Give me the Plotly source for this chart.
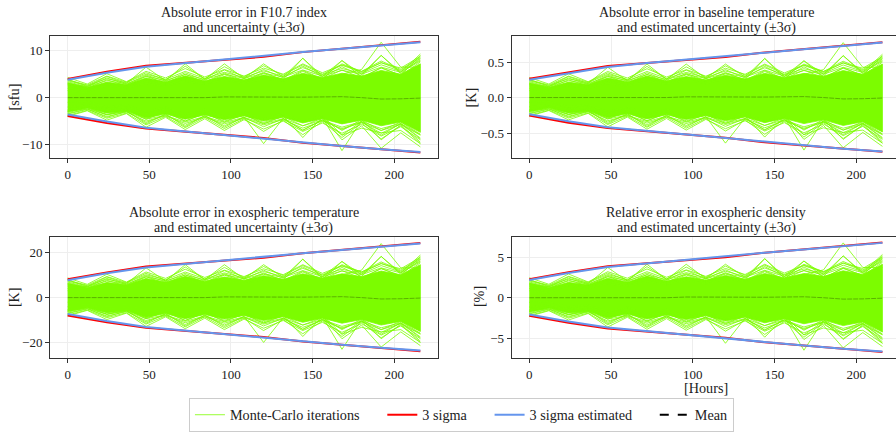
import plotly.graph_objects as go

# ---------------- data ----------------
# Monte-Carlo time grid (hours) and sigma grid (hours)
t_mc = [0, 12, 24, 36, 48, 60, 72, 84, 96, 108, 120, 132, 144, 156, 168, 180, 192, 204, 216]
t_sig = [0, 24, 48, 72, 96, 120, 144, 168, 192, 216]

titles_1 = ["Absolute error in F10.7 index", "Absolute error in baseline temperature",
            "Absolute error in exospheric temperature", "Relative error in exospheric density"]
titles_2 = ["and uncertainty (±3σ)", "and estimated uncertainty (±3σ)",
            "and estimated uncertainty (±3σ)", "and estimated uncertainty (±3σ)"]
y_labels = ["[sfu]", "[K]", "[K]", "[%]"]
legend_names = ["Monte-Carlo iterations", "3 sigma", "3 sigma estimated", "Mean"]

# 3 sigma (Monte-Carlo) upper / lower, per panel
red_up = [
    [4.0, 5.5, 6.8, 7.4, 8.0, 8.7, 9.7, 10.4, 11.1, 11.9],
    [0.265, 0.36, 0.445, 0.485, 0.525, 0.57, 0.635, 0.68, 0.725, 0.78],
    [8.1, 11.2, 13.8, 15.0, 16.2, 17.7, 19.7, 21.1, 22.5, 24.2],
    [2.28, 3.14, 3.88, 4.23, 4.57, 4.97, 5.54, 5.94, 6.34, 6.8],
]
red_lo = [
    [-3.9, -5.4, -6.6, -7.3, -7.9, -8.6, -9.6, -10.3, -11.0, -11.7],
    [-0.255, -0.355, -0.43, -0.48, -0.52, -0.565, -0.63, -0.675, -0.72, -0.765],
    [-7.9, -11.0, -13.4, -14.8, -16.0, -17.5, -19.5, -20.9, -22.3, -23.8],
    [-2.23, -3.08, -3.77, -4.17, -4.51, -4.91, -5.48, -5.88, -6.28, -6.68],
]
# 3 sigma estimated upper / lower, per panel
blue_up = [
    [3.8, 5.3, 6.6, 7.4, 8.2, 9.0, 9.7, 10.4, 11.1, 11.8],
    [0.25, 0.345, 0.43, 0.485, 0.535, 0.59, 0.635, 0.68, 0.725, 0.775],
    [7.7, 10.8, 13.4, 15.0, 16.6, 18.3, 19.7, 21.1, 22.5, 24.0],
    [2.17, 3.03, 3.77, 4.23, 4.68, 5.14, 5.54, 5.94, 6.34, 6.74],
]
blue_lo = [
    [-3.6, -5.1, -6.4, -7.2, -8.0, -8.8, -9.6, -10.3, -11.0, -11.6],
    [-0.235, -0.335, -0.42, -0.47, -0.525, -0.575, -0.63, -0.675, -0.72, -0.76],
    [-7.3, -10.4, -13.0, -14.6, -16.2, -17.9, -19.5, -20.9, -22.3, -23.5],
    [-2.06, -2.91, -3.65, -4.11, -4.57, -5.02, -5.48, -5.88, -6.28, -6.62],
]

# Monte-Carlo iterations, read in F10.7 units (sfu); the other panels show the
# same normalized pattern, so each panel carries its own unit factor.
mc_scale = [1.0, 0.0655, 2.03, 0.571]
mc_mean = [0.0, 0.0, 0.0, 0.0, 0.0, -0.05, -0.1, 0.0, 0.15, 0.1, 0.1, 0.05, 0.1, 0.15, 0.2, 0.0, -0.3, -0.25, -0.1]
mc_core_up = [3.2, 2.2, 3.3, 2.8, 4.2, 3.4, 4.6, 3.6, 4.5, 3.8, 4.8, 4.0, 5.2, 4.3, 5.2, 4.6, 5.8, 5.0, 7.2]
mc_core_lo = [-3.0, -2.2, -3.3, -2.9, -4.3, -3.5, -4.6, -3.7, -4.7, -3.9, -5.0, -4.2, -5.4, -4.5, -5.6, -4.8, -6.0, -5.2, -7.4]
mc_iterations = [
    [3.6, 2.6, 4.0, 3.2, 5.0, 3.9, 5.6, 4.1, 5.4, 4.3, 5.7, 4.6, 6.4, 4.9, 6.2, 5.2, 7.0, 5.6, 8.0],
    [4.3, 2.9, 5.1, 3.4, 5.6, 4.2, 6.2, 4.4, 6.0, 4.6, 6.3, 5.0, 7.2, 5.3, 7.0, 5.6, 7.8, 6.0, 8.6],
    [3.9, 2.4, 4.5, 3.0, 6.5, 3.6, 7.2, 3.9, 7.2, 4.1, 7.2, 4.4, 8.4, 4.6, 7.9, 5.0, 9.0, 5.4, 9.3],
    [3.0, 2.0, 3.8, 2.5, 4.6, 3.0, 5.0, 3.2, 4.9, 3.5, 5.4, 3.7, 5.8, 4.0, 5.9, 4.2, 6.4, 4.7, 7.6],
    [2.0, 1.5, 2.5, 2.0, 3.0, 2.4, 3.5, 2.8, 3.8, 3.0, 4.0, 3.5, 4.5, 3.8, 5.0, 6.0, 11.8, 6.5, 6.5],
    [1.5, 1.0, 2.8, 1.8, 3.5, 2.6, 4.0, 2.9, 4.4, 3.2, 4.6, 3.5, 5.6, 3.9, 7.9, 4.3, 6.3, 4.8, 9.0],
    [2.5, 1.8, 3.2, 2.4, 4.0, 2.9, 4.6, 3.3, 5.2, 3.6, 5.1, 3.9, 8.4, 4.2, 6.6, 4.6, 9.0, 5.1, 8.3],
    [3.4, 2.3, 4.2, 2.8, 4.8, 3.5, 5.3, 3.7, 5.9, 4.0, 6.0, 4.2, 6.7, 4.5, 7.2, 5.6, 7.4, 6.3, 8.8],
    [2.8, 2.4, 3.6, 3.0, 4.5, 3.7, 4.9, 3.9, 5.0, 4.1, 5.2, 4.4, 5.9, 4.6, 5.8, 5.0, 6.5, 5.4, 7.8],
    [3.8, 2.7, 4.6, 3.3, 5.3, 3.8, 6.7, 4.0, 6.6, 4.4, 6.8, 4.8, 7.0, 5.0, 6.9, 5.4, 7.5, 5.8, 8.4],
    [-3.5, -2.5, -4.0, -3.1, -5.0, -3.9, -5.5, -4.2, -5.6, -4.4, -5.8, -4.7, -6.5, -5.0, -6.6, -5.3, -7.0, -5.7, -8.0],
    [-4.0, -2.8, -4.8, -3.4, -6.3, -4.2, -6.8, -4.5, -7.0, -4.7, -6.7, -5.0, -7.2, -5.4, -7.6, -5.7, -8.2, -6.2, -9.0],
    [-3.2, -2.2, -3.7, -2.8, -5.6, -3.5, -6.2, -3.8, -6.3, -4.1, -9.8, -4.4, -7.0, -4.7, -8.0, -5.1, -8.0, -5.5, -8.6],
    [-2.6, -1.9, -3.2, -2.5, -4.6, -3.0, -5.0, -3.3, -5.2, -3.6, -5.6, -3.9, -8.5, -4.2, -11.3, -4.8, -7.0, -5.2, -7.8],
    [-2.0, -1.5, -2.5, -2.0, -3.4, -2.5, -4.0, -2.9, -4.3, -3.2, -4.6, -3.6, -5.2, -4.0, -9.0, -6.0, -10.8, -7.5, -10.5],
    [-3.0, -2.0, -3.6, -2.6, -4.4, -3.2, -5.0, -3.4, -5.0, -3.7, -5.3, -4.0, -6.0, -4.4, -7.0, -4.7, -9.0, -5.8, -9.5],
    [-1.0, -0.8, -2.0, -1.5, -3.0, -2.0, -3.5, -2.5, -4.0, -3.0, -4.5, -3.3, -5.0, -3.8, -8.0, -6.5, -7.5, -7.0, -9.8],
    [-3.4, -2.4, -4.2, -2.9, -5.3, -3.6, -5.9, -3.9, -6.0, -4.2, -6.2, -4.5, -6.9, -4.8, -6.8, -5.2, -7.6, -5.6, -8.8],
    [-2.8, -2.4, -3.6, -3.0, -4.6, -3.8, -5.2, -4.0, -5.3, -4.2, -5.5, -4.5, -6.0, -4.8, -6.3, -5.1, -6.6, -5.5, -7.9],
    [-3.8, -2.7, -4.4, -3.3, -5.8, -4.0, -6.4, -4.2, -6.6, -4.5, -7.2, -4.8, -7.9, -5.1, -8.5, -5.4, -8.8, -6.0, -9.8],
]

# ---------------- styling / layout ----------------
FONT = "Liberation Serif"
GREEN, RED, BLUE = "#7CFC00", "#FF0000", "#6495ED"
AX = "#333333"
TXT = "#222222"
W, H = 896, 432
PAD = "\u00a0" * 5  # spacing between legend entries


def px_x(p):
    return p / W


def px_y(p):
    return 1 - p / H


x_domains = [[px_x(50), px_x(438)], [px_x(511.6), 1.0], [px_x(50), px_x(438)], [px_x(511.6), 1.0]]
y_domains = [[px_y(161), px_y(37)], [px_y(161), px_y(37)], [px_y(364), px_y(241)], [px_y(364), px_y(241)]]
x_ranges = [[-10.8, 226.8], [-10.8, 224.3], [-10.8, 226.8], [-10.8, 224.3]]
y_ranges = [[-12.95, 13.05], [-0.857, 0.861], [-26.85, 26.85], [-7.42, 7.45]]
y_dticks = [10, 0.5, 20, 5]
y_formats = ["", ".1f", "", ""]
title_cx = [244, 706, 244, 706]
title_y = [(12.5, 28.5), (12.5, 28.5), (215.5, 231.5), (215.5, 231.5)]
ylab_x = [14, 471, 14, 479]
ylab_y = [99, 99, 302, 302]

fig = go.Figure()
legend_done = set()

for k in range(4):
    xa = "x" if k == 0 else f"x{k+1}"
    ya = "y" if k == 0 else f"y{k+1}"
    s = mc_scale[k]
    # dense core of the Monte-Carlo cloud
    fig.add_trace(go.Scatter(
        x=t_mc + t_mc[::-1],
        y=[v * s for v in mc_core_up] + [v * s for v in mc_core_lo[::-1]],
        fill="toself", fillcolor=GREEN, mode="lines",
        line=dict(color=GREEN, width=0.8), showlegend=False,
        hoverinfo="skip", xaxis=xa, yaxis=ya))
    for i, it in enumerate(mc_iterations):
        show = "mc" not in legend_done
        legend_done.add("mc")
        fig.add_trace(go.Scatter(
            x=t_mc, y=[v * s for v in it], mode="lines",
            line=dict(color=GREEN, width=0.8), name=legend_names[0] + PAD,
            legendgroup="mc", showlegend=show, legendrank=1,
            xaxis=xa, yaxis=ya))
    for arr in (red_up[k], red_lo[k]):
        show = "red" not in legend_done
        legend_done.add("red")
        fig.add_trace(go.Scatter(
            x=t_sig, y=arr, mode="lines", line=dict(color=RED, width=2),
            name=legend_names[1] + PAD, legendgroup="red", showlegend=show, legendrank=2,
            xaxis=xa, yaxis=ya))
    for arr in (blue_up[k], blue_lo[k]):
        show = "blue" not in legend_done
        legend_done.add("blue")
        fig.add_trace(go.Scatter(
            x=t_sig, y=arr, mode="lines", line=dict(color=BLUE, width=2),
            name=legend_names[2] + PAD, legendgroup="blue", showlegend=show, legendrank=3,
            xaxis=xa, yaxis=ya))
    show = "mean" not in legend_done
    legend_done.add("mean")
    fig.add_trace(go.Scatter(
        x=t_mc, y=[v * s for v in mc_mean], mode="lines",
        line=dict(color="rgba(40,70,0,0.45)", width=0.9, dash="5px,1px"),
        name=legend_names[3], legendgroup="mean", showlegend=False,
        xaxis=xa, yaxis=ya))
    if show:
        fig.add_trace(go.Scatter(
            x=[None], y=[None], mode="lines",
            line=dict(color="black", width=2, dash="dash"),
            name=legend_names[3], legendgroup="mean", showlegend=True, legendrank=4,
            xaxis=xa, yaxis=ya))

layout = dict(
    width=W, height=H, margin=dict(l=0, r=0, t=0, b=0),
    paper_bgcolor="white", plot_bgcolor="white",
    font=dict(family=FONT, size=12, color=TXT),
    legend=dict(orientation="h", x=0.515, xanchor="center", y=px_y(405), yanchor="top",
                bordercolor="#cccccc", borderwidth=1, bgcolor="white",
                font=dict(family=FONT, size=14.2, color=TXT),
                traceorder="normal", itemwidth=30, tracegroupgap=0),
    annotations=[],
)

for k in range(4):
    xkey = "xaxis" if k == 0 else f"xaxis{k+1}"
    ykey = "yaxis" if k == 0 else f"yaxis{k+1}"
    xa = "x" if k == 0 else f"x{k+1}"
    ya = "y" if k == 0 else f"y{k+1}"
    layout[xkey] = dict(domain=x_domains[k], range=x_ranges[k], anchor=ya,
                        tickmode="linear", tick0=0, dtick=50,
                        showline=True, linecolor=AX, linewidth=1, mirror=True,
                        ticks="outside", ticklen=4, tickcolor=AX,
                        showgrid=True, gridcolor="#eeeeee", gridwidth=1, zeroline=False,
                        tickfont=dict(family=FONT, size=13, color=TXT))
    layout[ykey] = dict(domain=y_domains[k], range=y_ranges[k], anchor=xa,
                        tickmode="linear", tick0=0, dtick=y_dticks[k],
                        tickformat=y_formats[k],
                        showline=True, linecolor=AX, linewidth=1,
                        mirror=(k in (0, 2)),
                        ticks="outside", ticklen=4, tickcolor=AX,
                        showgrid=True, gridcolor="#eeeeee", gridwidth=1, zeroline=False,
                        tickfont=dict(family=FONT, size=13, color=TXT))
    for txt, yy in ((titles_1[k], title_y[k][0]), (titles_2[k], title_y[k][1])):
        layout["annotations"].append(dict(
            text=txt, x=px_x(title_cx[k]), y=px_y(yy), xref="paper", yref="paper",
            xanchor="center", yanchor="middle", showarrow=False,
            font=dict(family=FONT, size=14, color=TXT)))
    layout["annotations"].append(dict(
        text=y_labels[k], x=px_x(ylab_x[k]), y=px_y(ylab_y[k]), xref="paper", yref="paper",
        xanchor="center", yanchor="middle", showarrow=False, textangle=-90,
        font=dict(family=FONT, size=14.2, color=TXT)))

layout["annotations"].append(dict(
    text="[Hours]", x=px_x(706), y=px_y(394), xref="paper", yref="paper",
    xanchor="center", yanchor="middle", showarrow=False,
    font=dict(family=FONT, size=14.2, color=TXT)))

fig.update_layout(**layout)
fig.write_html("out.html")
